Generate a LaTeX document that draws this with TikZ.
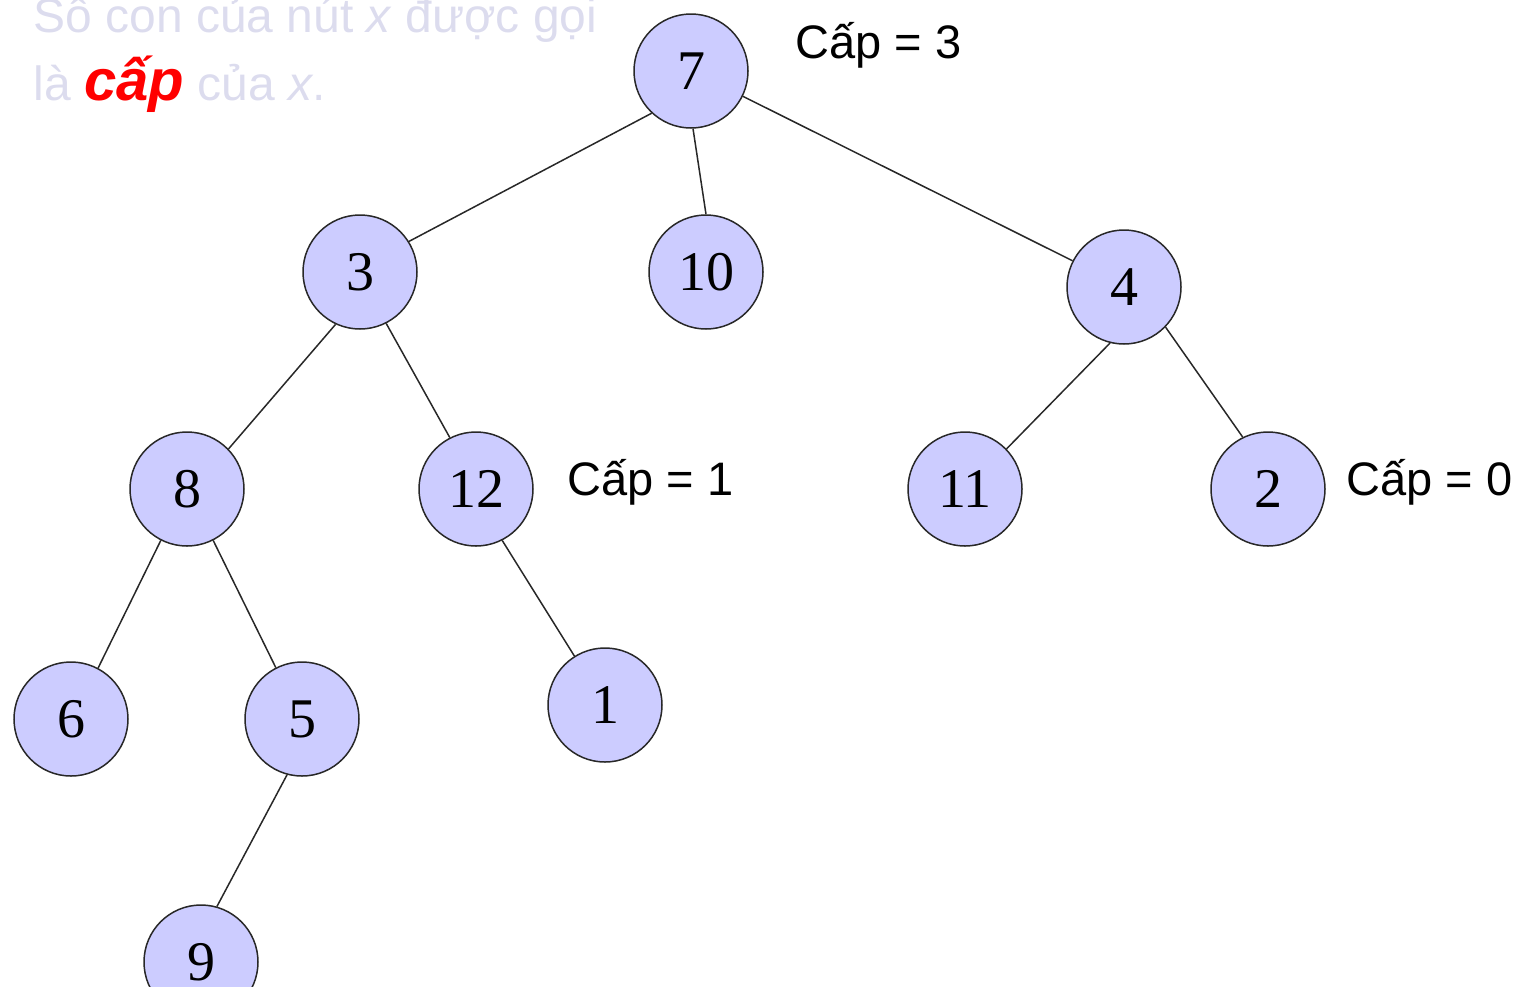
\documentclass[tikz,border=0pt]{standalone}
\usepackage{fontspec}
\setmainfont{Liberation Serif}
\newfontfamily\capfont{Liberation Sans}
\definecolor{nodeblue}{RGB}{204,204,255}
\definecolor{ghost}{RGB}{220,220,238}
\definecolor{edgegray}{RGB}{40,40,40}
\tikzset{
  treenode/.style={circle,draw=edgegray,line width=0.75pt,fill=nodeblue,minimum size=57pt,inner sep=0pt,font=\fontsize{28}{28}\selectfont},
  treeedge/.style={draw=edgegray,line width=0.75pt},
  caplabel/.style={anchor=base west,inner sep=0pt,font=\capfont\fontsize{23.5}{23.5}\selectfont}
}

\begin{document}
\begin{tikzpicture}[x=0.5pt,y=-0.5pt]
  \useasboundingbox (0,0) rectangle (1519,986);
  \node[treenode] (n7)  at (691,71)   {7};
  \node[treenode] (n3)  at (360,272)  {3};
  \node[treenode] (n10) at (706,272)  {10};
  \node[treenode] (n4)  at (1124,287) {4};
  \node[treenode] (n8)  at (187,489)  {8};
  \node[treenode] (n12) at (476,489)  {12};
  \node[treenode] (n11) at (965,489)  {11};
  \node[treenode] (n2)  at (1268,489) {2};
  \node[treenode] (n6)  at (71,719)   {6};
  \node[treenode] (n5)  at (302,719)  {5};
  \node[treenode] (n1)  at (605,705)  {1};
  \node[treenode] (n9)  at (201,962)  {9};
  \foreach \a/\b in {n7.227/n3.32, n7.272/n10.90, n7.-26/n4.153,
                     n3.245/n8.44, n3.297/n12.117, n4.256/n11.44, n4.316/n2.116,
                     n8.243/n6.62, n8.297/n5.117, n12.297/n1.122, n5.255/n9.74}
    \draw[treeedge] (\a) -- (\b);
  \node[caplabel] (cap3) at (795,58)  {Cấp = 3};
  \node[caplabel] (cap1) at (567,495) {Cấp = 1};
  \node[caplabel] (cap0) at (1346,495) {Cấp = 0};
  \node[anchor=base west,align=left,inner sep=0pt,text=ghost,font=\capfont\fontsize{24}{34}\selectfont] (note) at (33,100)
    {Số con của nút \textit{x} được gọi\\là {\color{red}\fontsize{29}{34}\selectfont\bfseries\itshape cấp} của \textit{x}.};
\end{tikzpicture}
\end{document}
